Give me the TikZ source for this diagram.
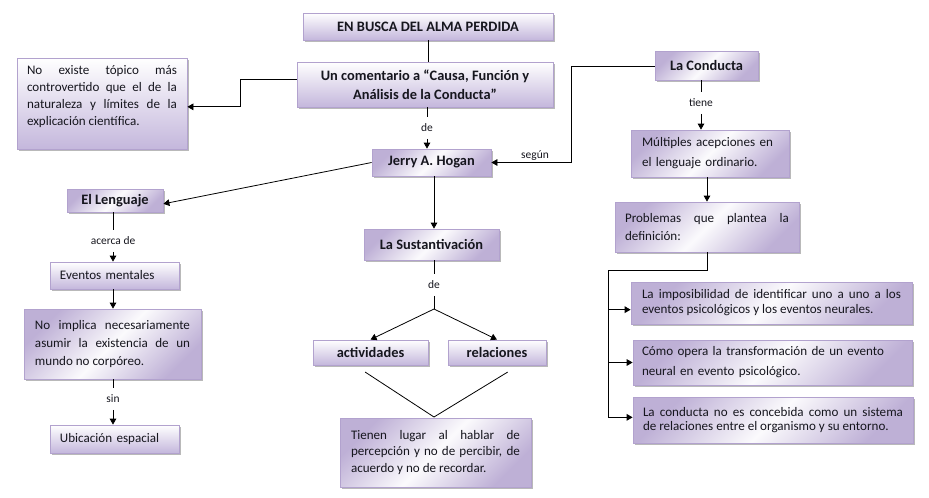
\documentclass[tikz,border=0pt]{standalone}
\usepackage{fontspec}
\setmainfont{Carlito}
\usetikzlibrary{shadows,arrows.meta,calc}
\definecolor{bxborder}{RGB}{178,162,206}
\definecolor{bxlow}{RGB}{196,183,220}
\definecolor{bxdiag}{RGB}{190,176,214}
\definecolor{txt}{RGB}{22,22,30}
\tikzset{
  bx/.style={draw=bxborder, line width=0.6pt, top color=white, bottom color=bxlow,
    drop shadow={shadow xshift=1.8pt, shadow yshift=-1.8pt, fill=black!50, opacity=0.55},
    inner sep=0pt, text=txt},
  diag/.style={left color=bxdiag, right color=bxdiag, middle color=white!94!bxdiag, shading angle=45},
  ttl/.style={bx, font=\bfseries\fontsize{10.8}{14.5}\selectfont, align=center},
  body/.style={bx, align=justify},
  lbl/.style={font=\fontsize{8.6}{10}\selectfont, inner xsep=1pt, inner ysep=5pt, text=txt},
  conn/.style={line width=0.6pt, black},
  arr/.style={conn, -{Triangle[length=4.5pt,width=5pt]}},
}
\begin{document}
\begin{tikzpicture}[x=0.75pt,y=-0.75pt]
\useasboundingbox (0,0) rectangle (929,497);

% boxes
\node[ttl, minimum width=187.5pt, minimum height=20.25pt] (title) at (428,26.5) {EN BUSCA DEL ALMA PERDIDA};
\node[ttl, minimum width=192pt, minimum height=33.75pt] (coment) at (425,84.5) {Un comentario a “Causa, Función y\\Análisis de la Conducta”};
\node[body, minimum width=127.5pt, minimum height=68.25pt, text width=112.5pt,
  font=\fontsize{9.8}{12.75}\selectfont] (noexiste) at (102,103.5)
  {No existe tópico más\linebreak controvertido que el de la\linebreak naturaleza y límites de la\linebreak explicación científica.\par\vspace{10pt}};
\node[ttl, diag, minimum width=89.25pt, minimum height=20.25pt] (jerry) at (431.5,162.5) {Jerry A. Hogan};
\node[ttl, diag, minimum width=77.25pt, minimum height=21.75pt] (conducta) at (706.5,65.5) {La Conducta};
\node[body, diag, minimum width=118.5pt, minimum height=35.25pt, text width=102pt, align=left,
  font=\fontsize{9.8}{15}\selectfont] (multiples) at (710,153.5)
  {Múltiples acepciones en\\el lenguaje ordinario.};
\node[body, diag, minimum width=138pt, minimum height=37.5pt, text width=123pt,
  font=\fontsize{9.8}{14}\selectfont] (problemas) at (707,227)
  {Problemas que plantea la\linebreak definición:};
\node[body, diag, minimum width=210.75pt, minimum height=31.5pt, text width=194.25pt,
  font=\fontsize{9.8}{11.25}\selectfont] (boxa) at (771.5,303)
  {La imposibilidad de identificar uno a uno a los\linebreak eventos psicológicos y los eventos neurales.};
\node[body, diag, minimum width=209.25pt, minimum height=33.75pt, text width=195.75pt, align=left,
  font=\fontsize{9.8}{15}\selectfont] (boxb) at (772.5,362.5)
  {Cómo opera la transformación de un evento\\neural en evento psicológico.};
\node[body, diag, minimum width=210pt, minimum height=34.5pt, text width=195pt,
  font=\fontsize{9.8}{11}\selectfont] (boxc) at (773,420)
  {La conducta no es concebida como un sistema\linebreak de relaciones entre el organismo y su entorno.};
\node[ttl, diag, minimum width=72pt, minimum height=17.25pt] (lenguaje) at (115,200.5) {El Lenguaje};
\node[body, minimum width=96.75pt, minimum height=20.25pt, text width=81.75pt, align=left,
  font=\fontsize{9.8}{12}\selectfont] (eventos) at (114.5,275.5) {Eventos mentales};
\node[body, diag, minimum width=132.75pt, minimum height=52.5pt, text width=116.25pt,
  font=\fontsize{9.8}{13.5}\selectfont] (noimplica) at (112.5,344)
  {No implica necesariamente\linebreak asumir la existencia de un\linebreak mundo no corpóreo.};
\node[body, minimum width=96.75pt, minimum height=21pt, text width=81.75pt, align=left,
  font=\fontsize{9.8}{12}\selectfont] (ubic) at (114.5,439) {Ubicación espacial};
\node[ttl, diag, minimum width=101.25pt, minimum height=23.25pt] (sust) at (431.5,244.5) {La Sustantivación};
\node[ttl, minimum width=86.25pt, minimum height=18.75pt] (activ) at (370.5,352.5) {actividades};
\node[ttl, minimum width=73.5pt, minimum height=18.75pt] (relac) at (497,352.5) {relaciones};
\node[body, diag, minimum width=143.25pt, minimum height=51.75pt, text width=126.75pt,
  font=\fontsize{9.8}{12.3}\selectfont] (tienen) at (435.5,452.5)
  {Tienen lugar al hablar de\linebreak percepción y no de percibir, de\linebreak acuerdo y no de recordar.};

% labels
\node[lbl] (de1) at (427,128) {de};
\node[lbl] (tiene) at (701,103) {tiene};
\node[lbl, inner ysep=1pt] (segun) at (535,156) {según};
\node[lbl] (acerca) at (113,241) {acerca de};
\node[lbl] (sin) at (113,399) {sin};
\node[lbl] (de2) at (434,285) {de};
\coordinate (bus) at (608,270);
\coordinate (split) at (434,309);
\coordinate (join) at (434,417);

% connectors
\draw[conn] (title.south) -- (title.south |- coment.north);
\draw[arr] ([yshift=4pt]coment.west) -- ++(-56,0) |- ([yshift=-2.5pt]noexiste.east);
\draw[conn] (coment.south -| de1) -- (de1);
\draw[arr] (de1) -- (de1 |- jerry.north);
\draw[arr] ([yshift=-1pt]conducta.west) -- ++(-83,0) |- (jerry.east);
\draw[conn] (conducta.south -| tiene) -- (tiene);
\draw[arr] (tiene) -- (tiene |- multiples.north);
\draw[arr] (multiples.south -| problemas.north) -- (problemas.north);
\draw[conn] (problemas.south) |- (bus);
\draw[arr] (bus) |- ([yshift=-5pt]boxa.west);
\draw[arr] (bus) |- (boxb.west);
\draw[arr] (bus) |- ([yshift=2pt]boxc.west);
\draw[arr] (jerry.west) -- ([yshift=-2.5pt]lenguaje.east);
\draw[conn] (lenguaje.south -| acerca) -- (acerca);
\draw[arr] (acerca) -- (acerca |- eventos.north);
\draw[arr] (eventos.south -| acerca) -- (acerca |- noimplica.north);
\draw[conn] (noimplica.south -| sin) -- (sin);
\draw[arr] (sin) -- (sin |- ubic.north);
\draw[arr] (jerry.south -| de2) -- (de2 |- sust.north);
\draw[conn] (sust.south -| de2) -- (de2);
\draw[conn] (de2) -- (split);
\draw[arr] (split) -- (activ.north);
\draw[arr] (split) -- (relac.north);
\draw[conn] ([xshift=-4pt,yshift=-5pt]activ.south) -- (join);
\draw[conn] ([xshift=8pt,yshift=-5pt]relac.south) -- (join);
\end{tikzpicture}
\end{document}
